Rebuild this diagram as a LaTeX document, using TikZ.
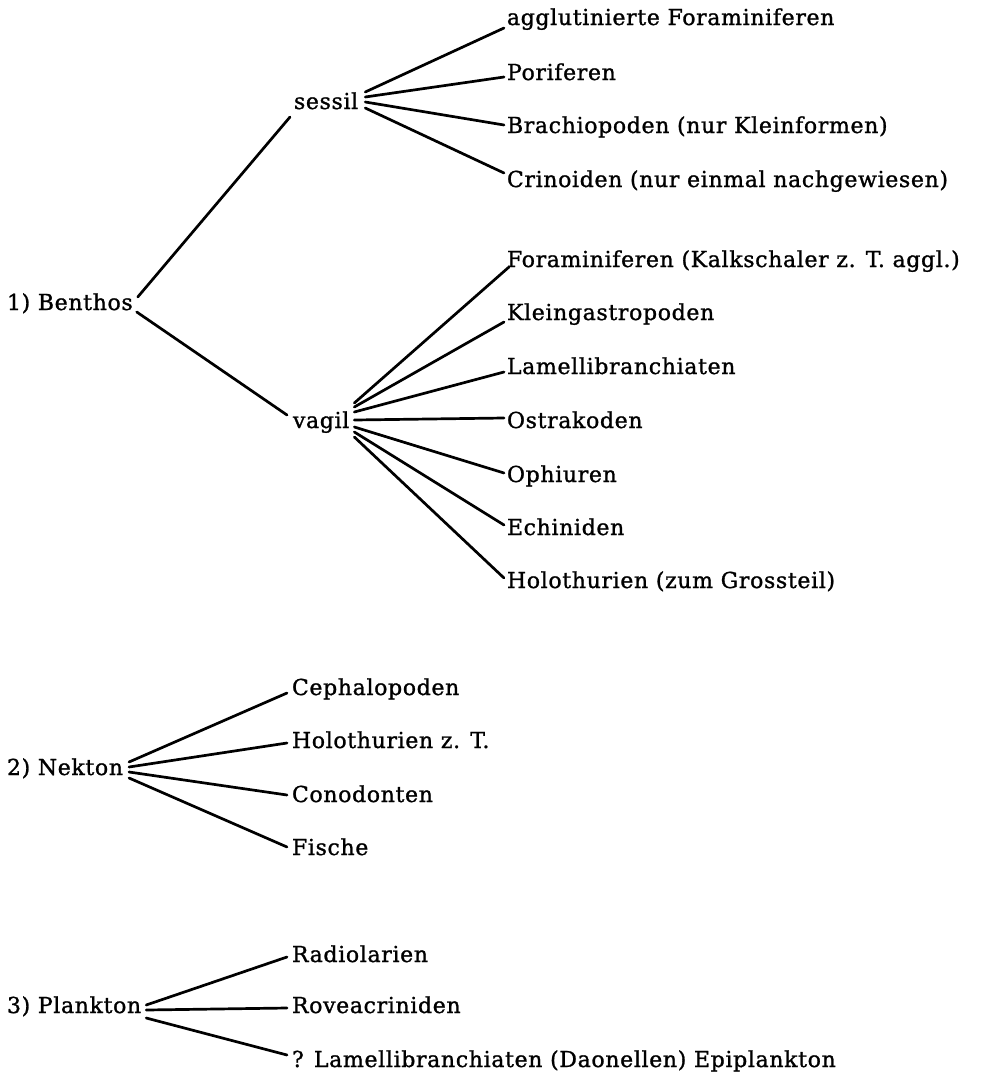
\documentclass[tikz,border=0pt]{standalone}
\usepackage{fontspec}
\setmainfont{DejaVu Serif}[LetterSpace=3.0,FakeBold=1.2]
\begin{document}
\begin{tikzpicture}[x=1pt,y=1pt,
  lbl/.style={anchor=base west,inner sep=0pt,outer sep=0pt,font=\fontsize{22pt}{26pt}\selectfont},
  conn/.style={line width=2.7pt,line cap=round}]
\useasboundingbox (0,0) rectangle (983,-1074);
% --- 1) Benthos
\node[lbl] (benthos) at (7,-310) {1) Benthos};
\node[lbl] (sessil) at (294,-109) {sessil};
\node[lbl] (vagil) at (293,-428) {vagil};
\node[lbl] (s1) at (507,-25) {agglutinierte Foraminiferen};
\node[lbl] (s2) at (507,-80) {Poriferen};
\node[lbl] (s3) at (507,-133) {Brachiopoden (nur Kleinformen)};
\node[lbl] (s4) at (507,-187) {Crinoiden (nur einmal nachgewiesen)};
\node[lbl] (v1) at (507,-267) {Foraminiferen (Kalkschaler z. T. aggl.)};
\node[lbl] (v2) at (507,-320) {Kleingastropoden};
\node[lbl] (v3) at (507,-374) {Lamellibranchiaten};
\node[lbl] (v4) at (507,-428) {Ostrakoden};
\node[lbl] (v5) at (507,-482) {Ophiuren};
\node[lbl] (v6) at (507,-535) {Echiniden};
\node[lbl] (v7) at (507,-588) {Holothurien (zum Grossteil)};
\draw[conn] ([shift={(5,13)}]benthos.base east) -- ([shift={(-4,-8)}]sessil.base west);
\draw[conn] ([shift={(4,-2)}]benthos.base east) -- ([shift={(-6,13)}]vagil.base west);
\draw[conn] ([shift={(7,17)}]sessil.base east) -- ([shift={(-3,-3)}]s1.base west);
\draw[conn] ([shift={(7,12)}]sessil.base east) -- ([shift={(-3,3)}]s2.base west);
\draw[conn] ([shift={(7,7)}]sessil.base east) -- ([shift={(-3,8)}]s3.base west);
\draw[conn] ([shift={(7,1)}]sessil.base east) -- ([shift={(-3,14)}]s4.base west);
\draw[conn] ([shift={(5,25)}]vagil.base east) -- ([shift={(2,0)}]v1.base west);
\draw[conn] ([shift={(5,21)}]vagil.base east) -- ([shift={(-3,-2)}]v2.base west);
\draw[conn] ([shift={(5,16)}]vagil.base east) -- ([shift={(-3,2)}]v3.base west);
\draw[conn] ([shift={(5,8)}]vagil.base east) -- ([shift={(-3,10)}]v4.base west);
\draw[conn] ([shift={(5,1)}]vagil.base east) -- ([shift={(-3,9)}]v5.base west);
\draw[conn] ([shift={(5,-4)}]vagil.base east) -- ([shift={(-3,10)}]v6.base west);
\draw[conn] ([shift={(5,-9)}]vagil.base east) -- ([shift={(-3,10)}]v7.base west);
% --- 2) Nekton
\node[lbl] (nekton) at (7,-775) {2) Nekton};
\node[lbl] (n1) at (292,-695) {Cephalopoden};
\node[lbl] (n2) at (292,-748) {Holothurien z. T.};
\node[lbl] (n3) at (292,-802) {Conodonten};
\node[lbl] (n4) at (292,-855) {Fische};
\draw[conn] ([shift={(6,13)}]nekton.base east) -- ([shift={(-5,2)}]n1.base west);
\draw[conn] ([shift={(6,8)}]nekton.base east) -- ([shift={(-5,5)}]n2.base west);
\draw[conn] ([shift={(6,3)}]nekton.base east) -- ([shift={(-5,7)}]n3.base west);
\draw[conn] ([shift={(6,-3)}]nekton.base east) -- ([shift={(-5,8)}]n4.base west);
% --- 3) Plankton
\node[lbl] (plankton) at (7,-1013) {3) Plankton};
\node[lbl] (p1) at (292,-962) {Radiolarien};
\node[lbl] (p2) at (292,-1013) {Roveacriniden};
\node[lbl] (p3) at (292,-1067) {? Lamellibranchiaten (Daonellen) Epiplankton};
\draw[conn] ([shift={(5,8)}]plankton.base east) -- ([shift={(-5,5)}]p1.base west);
\draw[conn] ([shift={(5,3)}]plankton.base east) -- ([shift={(-5,5)}]p2.base west);
\draw[conn] ([shift={(5,-5)}]plankton.base east) -- ([shift={(-5,12)}]p3.base west);
\end{tikzpicture}
\end{document}
